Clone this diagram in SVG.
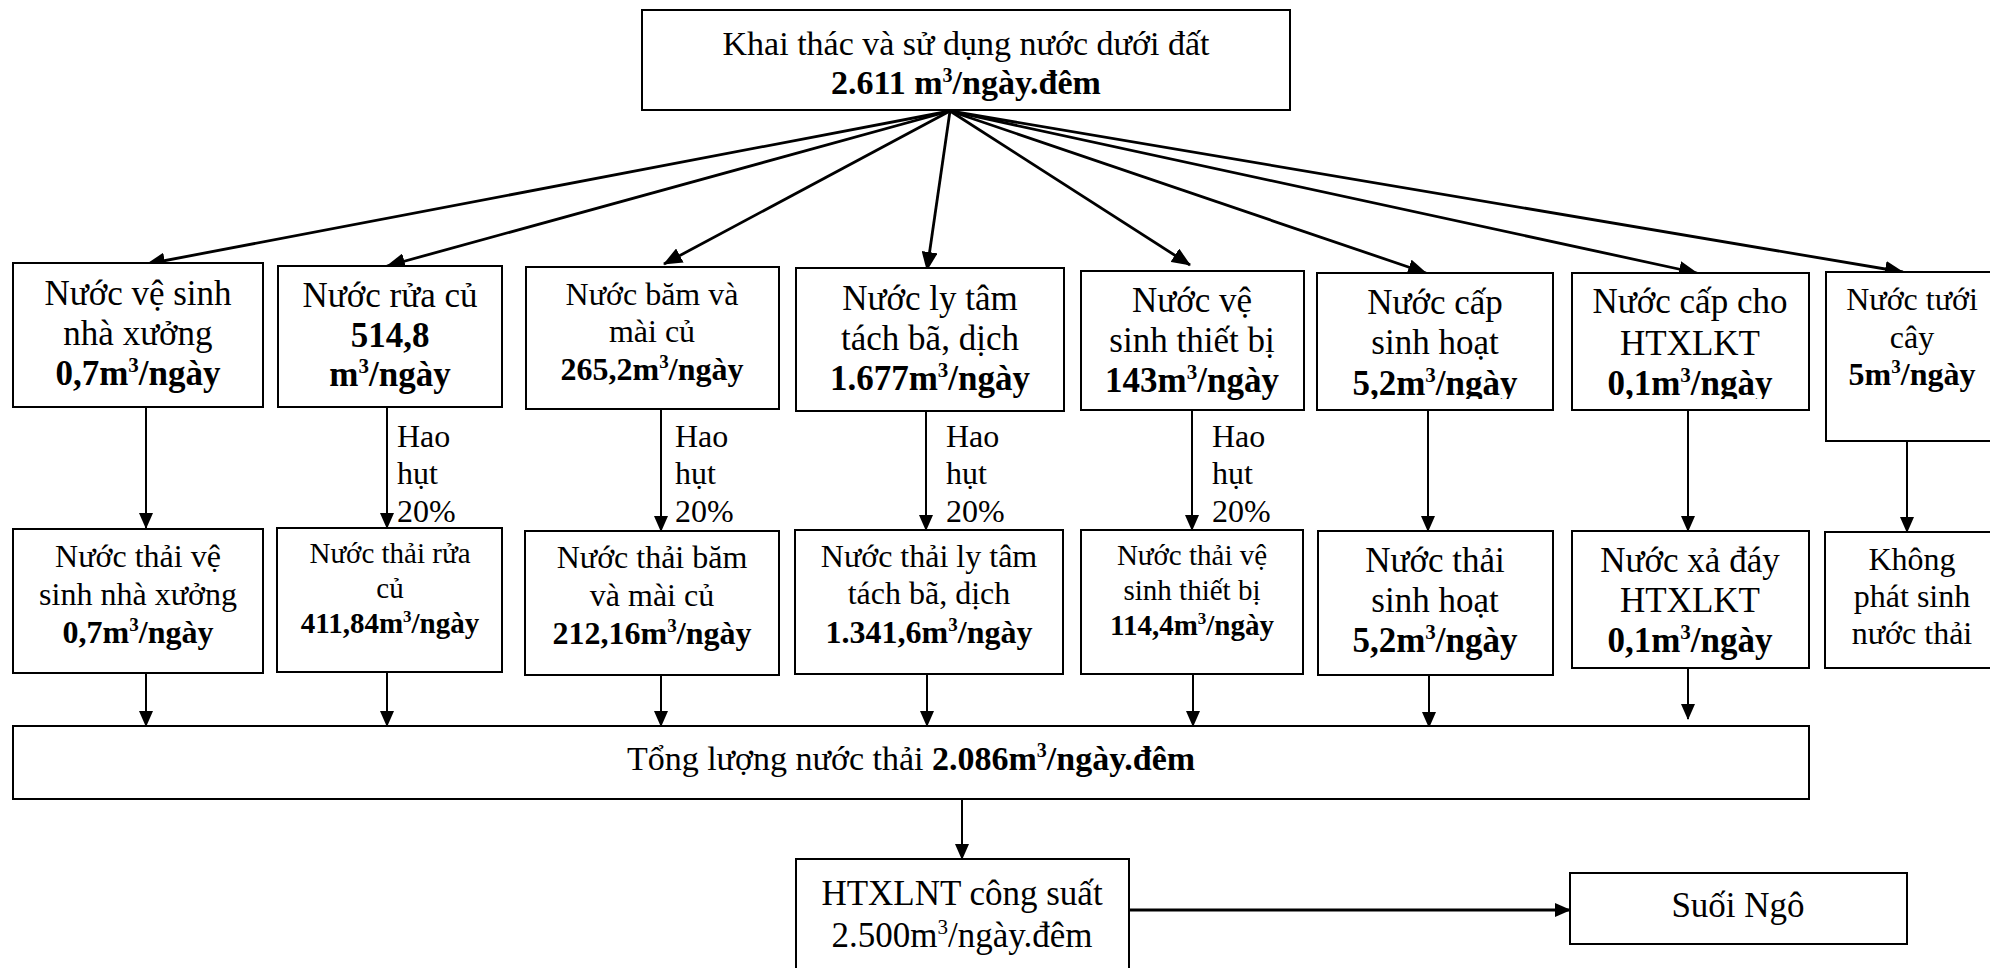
<svg xmlns="http://www.w3.org/2000/svg" width="1990" height="968" viewBox="0 0 1990 968">
  <style>
    .box { fill: #fff; stroke: #000; stroke-width: 2; }
    .t { font-family: "Liberation Serif", "Times New Roman", serif; fill: #000; text-anchor: middle; }
    .l { font-family: "Liberation Serif", "Times New Roman", serif; fill: #000; text-anchor: start; font-size: 32px; }
    .b { font-weight: bold; }
    .s35 { font-size: 35px; }
    .s34 { font-size: 34px; }
    .s32 { font-size: 32px; }
    .s29 { font-size: 29px; }
    .fan { stroke: #000; stroke-width: 2.8; fill: none; marker-end: url(#arrowBig); }
    .down { stroke: #000; stroke-width: 2; fill: none; marker-end: url(#arrow); }
  </style>
  <defs>
    <marker id="arrow" markerUnits="userSpaceOnUse" markerWidth="16" markerHeight="14" refX="15" refY="7" orient="auto">
      <path d="M0,0 L16,7 L0,14 Z" fill="#000"/>
    </marker>
    <marker id="arrowBig" markerUnits="userSpaceOnUse" markerWidth="19" markerHeight="16" refX="18" refY="8" orient="auto">
      <path d="M0,0 L19,8 L0,16 Z" fill="#000"/>
    </marker>
    <clipPath id="clipR1"><rect x="0" y="0" width="1990" height="399"/></clipPath>
    <clipPath id="clipR2"><rect x="0" y="0" width="1990" height="660"/></clipPath>
  </defs>

  <rect width="1990" height="968" fill="#fff"/>

  <!-- connectors -->
  <g id="connectors">
    <!-- source to each water use -->
    <line class="fan" x1="950" y1="111" x2="147" y2="264"/>
    <line class="fan" x1="950" y1="111" x2="387" y2="266"/>
    <line class="fan" x1="950" y1="111" x2="664" y2="264"/>
    <line class="fan" x1="950" y1="111" x2="927" y2="270"/>
    <line class="fan" x1="950" y1="111" x2="1190" y2="265"/>
    <line class="fan" x1="950" y1="111" x2="1426" y2="273"/>
    <line class="fan" x1="950" y1="111" x2="1697" y2="273"/>
    <line class="fan" x1="950" y1="111" x2="1903" y2="272"/>
    <!-- use to wastewater -->
    <line class="down" x1="146" y1="407" x2="146" y2="528"/>
    <line class="down" x1="387" y1="407" x2="387" y2="528"/>
    <line class="down" x1="661" y1="409" x2="661" y2="531"/>
    <line class="down" x1="926" y1="411" x2="926" y2="530"/>
    <line class="down" x1="1192" y1="410" x2="1192" y2="530"/>
    <line class="down" x1="1428" y1="410" x2="1428" y2="531"/>
    <line class="down" x1="1688" y1="410" x2="1688" y2="531"/>
    <line class="down" x1="1907" y1="441" x2="1907" y2="532"/>
    <!-- wastewater to total -->
    <line class="down" x1="146" y1="673" x2="146" y2="726"/>
    <line class="down" x1="387" y1="672" x2="387" y2="726"/>
    <line class="down" x1="661" y1="675" x2="661" y2="726"/>
    <line class="down" x1="927" y1="674" x2="927" y2="726"/>
    <line class="down" x1="1193" y1="674" x2="1193" y2="726"/>
    <line class="down" x1="1429" y1="675" x2="1429" y2="727"/>
    <line class="down" x1="1688" y1="668" x2="1688" y2="719"/>
    <!-- total to treatment, treatment to stream -->
    <line class="down" x1="962" y1="799" x2="962" y2="859"/>
    <line class="down" style="stroke-width:3" x1="1129" y1="910" x2="1570" y2="910"/>
  </g>

  <!-- source -->
  <g id="nguon">
    <rect class="box" x="642" y="10" width="648" height="100"/>
    <text class="t s34" x="966" y="55">Khai thác và sử dụng nước dưới đất</text>
    <text class="t s34 b" x="966" y="94">2.611 m<tspan dy="-12" font-size="20">3</tspan><tspan dy="12">/ngày.đêm</tspan></text>
  </g>

  <!-- water uses -->
  <g id="ve-sinh-nha-xuong">
    <rect class="box" x="13" y="263" width="250" height="144"/>
    <text class="t s35" x="138" y="305">Nước vệ sinh</text>
    <text class="t s35" x="138" y="345">nhà xưởng</text>
    <text class="t s35 b" x="138" y="385">0,7m<tspan dy="-13" font-size="21">3</tspan><tspan dy="13">/ngày</tspan></text>
  </g>
  <g id="rua-cu">
    <rect class="box" x="278" y="266" width="224" height="141"/>
    <text class="t s35" x="390" y="307">Nước rửa củ</text>
    <text class="t s35 b" x="390" y="347">514,8</text>
    <text class="t s35 b" x="390" y="386">m<tspan dy="-13" font-size="21">3</tspan><tspan dy="13">/ngày</tspan></text>
  </g>
  <g id="bam-mai-cu">
    <rect class="box" x="526" y="267" width="253" height="142"/>
    <text class="t s32" x="652" y="305">Nước băm và</text>
    <text class="t s32" x="652" y="342">mài củ</text>
    <text class="t s32 b" x="652" y="380">265,2m<tspan dy="-12" font-size="19">3</tspan><tspan dy="12">/ngày</tspan></text>
  </g>
  <g id="ly-tam">
    <rect class="box" x="796" y="268" width="268" height="143"/>
    <text class="t s35" x="930" y="310">Nước ly tâm</text>
    <text class="t s35" x="930" y="350">tách bã, dịch</text>
    <text class="t s35 b" x="930" y="390">1.677m<tspan dy="-13" font-size="21">3</tspan><tspan dy="13">/ngày</tspan></text>
  </g>
  <g id="ve-sinh-thiet-bi">
    <rect class="box" x="1081" y="271" width="223" height="139"/>
    <text class="t s35" x="1192" y="312">Nước vệ</text>
    <text class="t s35" x="1192" y="352">sinh thiết bị</text>
    <text class="t s35 b" x="1192" y="392">143m<tspan dy="-13" font-size="21">3</tspan><tspan dy="13">/ngày</tspan></text>
  </g>
  <g id="cap-sinh-hoat">
    <rect class="box" x="1317" y="273" width="236" height="137"/>
    <text class="t s35" x="1435" y="314">Nước cấp</text>
    <text class="t s35" x="1435" y="354">sinh hoạt</text>
    <text class="t s35 b" x="1435" y="395" clip-path="url(#clipR1)">5,2m<tspan dy="-13" font-size="21">3</tspan><tspan dy="13">/ngày</tspan></text>
  </g>
  <g id="cap-htxlkt">
    <rect class="box" x="1572" y="273" width="237" height="137"/>
    <text class="t s35" x="1690" y="313">Nước cấp cho</text>
    <text class="t s35" x="1690" y="355">HTXLKT</text>
    <text class="t s35 b" x="1690" y="395" clip-path="url(#clipR1)">0,1m<tspan dy="-13" font-size="21">3</tspan><tspan dy="13">/ngày</tspan></text>
  </g>
  <g id="tuoi-cay">
    <rect class="box" x="1826" y="272" width="172" height="169"/>
    <text class="t s32" x="1912" y="310">Nước tưới</text>
    <text class="t s32" x="1912" y="348">cây</text>
    <text class="t s32 b" x="1912" y="385">5m<tspan dy="-12" font-size="19">3</tspan><tspan dy="12">/ngày</tspan></text>
  </g>

  <!-- loss labels -->
  <g id="hao-hut">
    <text class="l" x="397" y="447">Hao</text>
    <text class="l" x="397" y="484">hụt</text>
    <text class="l" x="397" y="522">20%</text>
    <text class="l" x="675" y="447">Hao</text>
    <text class="l" x="675" y="484">hụt</text>
    <text class="l" x="675" y="522">20%</text>
    <text class="l" x="946" y="447">Hao</text>
    <text class="l" x="946" y="484">hụt</text>
    <text class="l" x="946" y="522">20%</text>
    <text class="l" x="1212" y="447">Hao</text>
    <text class="l" x="1212" y="484">hụt</text>
    <text class="l" x="1212" y="522">20%</text>
  </g>

  <!-- wastewater -->
  <g id="nt-ve-sinh-nha-xuong">
    <rect class="box" x="13" y="529" width="250" height="144"/>
    <text class="t s32" x="138" y="567">Nước thải vệ</text>
    <text class="t s32" x="138" y="605">sinh nhà xưởng</text>
    <text class="t s32 b" x="138" y="643">0,7m<tspan dy="-12" font-size="19">3</tspan><tspan dy="12">/ngày</tspan></text>
  </g>
  <g id="nt-rua-cu">
    <rect class="box" x="277" y="528" width="225" height="144"/>
    <text class="t s29" x="390" y="563">Nước thải rửa</text>
    <text class="t s29" x="390" y="598">củ</text>
    <text class="t s29 b" x="390" y="633">411,84m<tspan dy="-11" font-size="17">3</tspan><tspan dy="11">/ngày</tspan></text>
  </g>
  <g id="nt-bam-mai-cu">
    <rect class="box" x="525" y="531" width="254" height="144"/>
    <text class="t s32" x="652" y="568">Nước thải băm</text>
    <text class="t s32" x="652" y="606">và mài củ</text>
    <text class="t s32 b" x="652" y="644">212,16m<tspan dy="-12" font-size="19">3</tspan><tspan dy="12">/ngày</tspan></text>
  </g>
  <g id="nt-ly-tam">
    <rect class="box" x="795" y="530" width="268" height="144"/>
    <text class="t s32" x="929" y="567">Nước thải ly tâm</text>
    <text class="t s32" x="929" y="604">tách bã, dịch</text>
    <text class="t s32 b" x="929" y="643">1.341,6m<tspan dy="-12" font-size="19">3</tspan><tspan dy="12">/ngày</tspan></text>
  </g>
  <g id="nt-ve-sinh-thiet-bi">
    <rect class="box" x="1081" y="530" width="222" height="144"/>
    <text class="t s29" x="1192" y="565">Nước thải vệ</text>
    <text class="t s29" x="1192" y="600">sinh thiết bị</text>
    <text class="t s29 b" x="1192" y="635">114,4m<tspan dy="-11" font-size="17">3</tspan><tspan dy="11">/ngày</tspan></text>
  </g>
  <g id="nt-sinh-hoat">
    <rect class="box" x="1318" y="531" width="235" height="144"/>
    <text class="t s35" x="1435" y="572">Nước thải</text>
    <text class="t s35" x="1435" y="612">sinh hoạt</text>
    <text class="t s35 b" x="1435" y="652">5,2m<tspan dy="-13" font-size="21">3</tspan><tspan dy="13">/ngày</tspan></text>
  </g>
  <g id="xa-day-htxlkt">
    <rect class="box" x="1572" y="531" width="237" height="137"/>
    <text class="t s35" x="1690" y="572">Nước xả đáy</text>
    <text class="t s35" x="1690" y="612">HTXLKT</text>
    <text class="t s35 b" x="1690" y="652" clip-path="url(#clipR2)">0,1m<tspan dy="-13" font-size="21">3</tspan><tspan dy="13">/ngày</tspan></text>
  </g>
  <g id="khong-phat-sinh">
    <rect class="box" x="1825" y="532" width="173" height="136"/>
    <text class="t s32" x="1912" y="570">Không</text>
    <text class="t s32" x="1912" y="607">phát sinh</text>
    <text class="t s32" x="1912" y="644">nước thải</text>
  </g>

  <!-- total -->
  <g id="tong-nuoc-thai">
    <rect class="box" x="13" y="726" width="1796" height="73"/>
    <text class="t s34" x="911" y="770">Tổng lượng nước thải <tspan class="b">2.086m</tspan><tspan class="b" dy="-13" font-size="20">3</tspan><tspan class="b" dy="13">/ngày.đêm</tspan></text>
  </g>

  <!-- treatment and discharge -->
  <g id="htxlnt">
    <rect class="box" x="796" y="859" width="333" height="120"/>
    <text class="t s35" x="962" y="905">HTXLNT công suất</text>
    <text class="t s35" x="962" y="947">2.500m<tspan dy="-13" font-size="21">3</tspan><tspan dy="13">/ngày.đêm</tspan></text>
  </g>
  <g id="suoi-ngo">
    <rect class="box" x="1570" y="873" width="337" height="71"/>
    <text class="t s35" x="1738" y="917">Suối Ngô</text>
  </g>
</svg>
